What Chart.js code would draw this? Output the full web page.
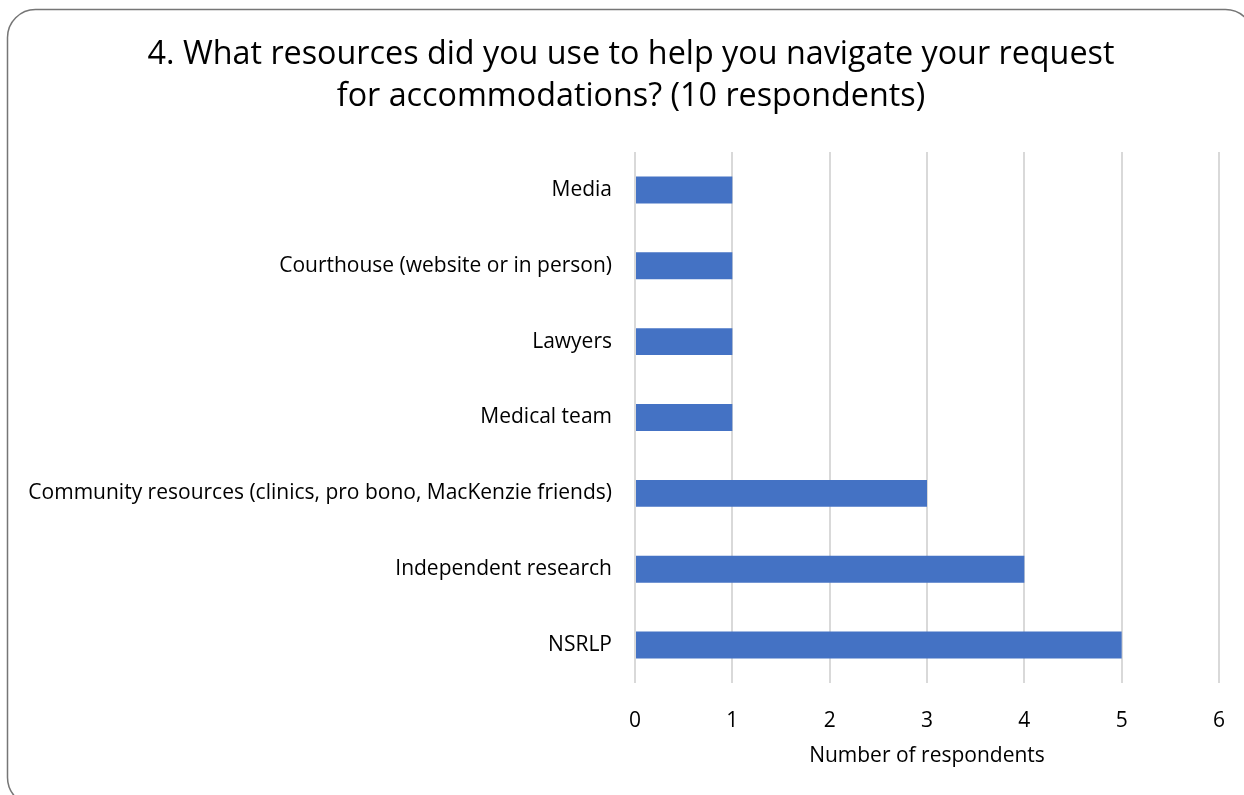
<!DOCTYPE html>
<html>
<head>
<meta charset="utf-8">
<script src="https://cdn.jsdelivr.net/npm/chart.js@4"></script>
<style>
  html, body { margin: 0; padding: 0; background: #fff; }
  #wrap { width: 1244px; height: 795px; position: relative; }
</style>
</head>
<body>
<div id="wrap"><canvas id="myChart"></canvas></div>
<script>
// data
const categories = ['Media', 'Courthouse (website or in person)', 'Lawyers', 'Medical team',
    'Community resources (clinics, pro bono, MacKenzie friends)', 'Independent research', 'NSRLP'];
const respondents = [1, 1, 1, 1, 3, 4, 5];
const titleLines = ['4. What resources did you use to help you navigate your request',
    'for accommodations? (10 respondents)'];
const xTitle = 'Number of respondents';

const fontName = 'Open Sans';

// border + title drawn by hand
const frame = {
    id: 'frame',
    beforeDraw(chart) {
        let c = chart.ctx;
        c.save();
        c.fillStyle = '#fff';
        c.fillRect(0, 0, chart.width, chart.height);
        c.strokeStyle = '#767676';
        c.lineWidth = 1.5;
        c.beginPath();
        c.roundRect(7.5, 9.5, 1246, 796, 28);
        c.stroke();
        c.fillStyle = '#000';
        c.font = `32.3px "${fontName}"`;
        c.textAlign = 'center';
        c.textBaseline = 'middle';
        c.fillText(titleLines[0], 631, 55);
        c.fillText(titleLines[1], 631, 97);
        c.restore();
    }
};

let ctx = document.getElementById('myChart');
new Chart(ctx, {
    type: 'bar',
    data: {
        labels: categories,
        datasets: [{
            data: respondents,
            backgroundColor: '#4472c4',
            categoryPercentage: 1,
            barPercentage: 0.355
        }]
    },
    options: {
        indexAxis: 'y',
        responsive: true,
        maintainAspectRatio: false,
        animation: false,
        layout: { padding: { top: 152, right: 25, bottom: 22, left: 0 } },
        plugins: { legend: { display: false }, title: { display: false }, tooltip: { enabled: false } },
        scales: {
            x: {
                min: 0,
                max: 6,
                ticks: { stepSize: 1, color: '#000', padding: 25, font: { family: fontName, size: 21 } },
                grid: { color: '#d9d9d9', lineWidth: 2, drawTicks: false },
                border: { display: false },
                title: { display: true, text: xTitle, color: '#000', font: { family: fontName, size: 21 }, padding: { top: 8 } },
                afterFit(scale) {
                    scale.height = 90;
                    scale.paddingLeft = 0;
                    scale.paddingRight = 0;
                }
            },
            y: {
                ticks: { color: '#000', padding: 15, font: { family: fontName, size: 21 } },
                grid: { display: false },
                border: { display: false },
                afterFit(scale) { scale.width = 635; }
            }
        }
    },
    plugins: [frame]
});
</script>
</body>
</html>
